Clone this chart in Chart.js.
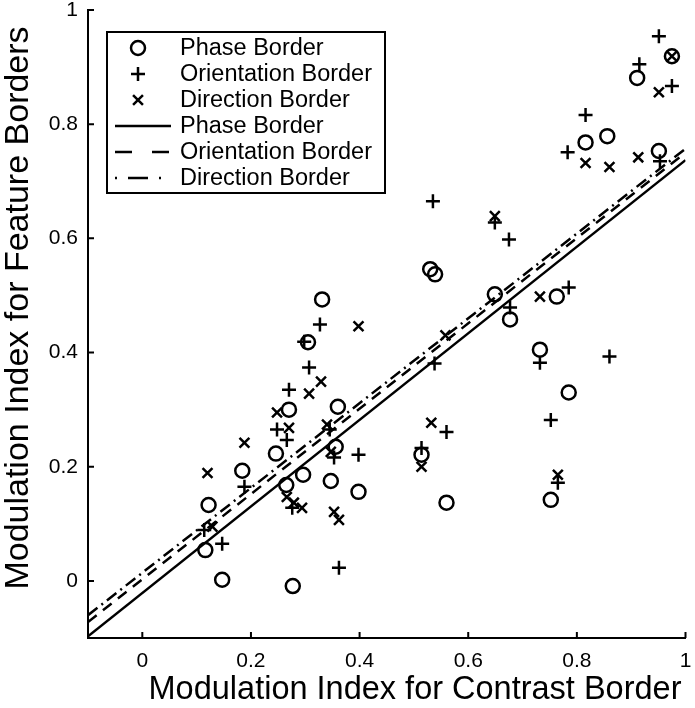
<!DOCTYPE html>
<html>
<head>
<meta charset="utf-8">
<script src="https://cdn.jsdelivr.net/npm/chart.js@4.4.0/dist/chart.umd.min.js"></script>
<style>
  body { margin: 0; background: #fff; }
</style>
</head>
<body>
<canvas id="modChart" width="695" height="708"></canvas>
<script>
// values
const tickVals = [0, 0.2, 0.4, 0.6, 0.8, 1];

const phaseX = [0.116, 0.122, 0.147, 0.184, 0.246, 0.270, 0.265, 0.277, 0.305, 0.331, 0.296, 0.360, 0.356, 0.347, 0.398,
                0.530, 0.539, 0.514, 0.560, 0.649, 0.677, 0.763, 0.732, 0.785, 0.752, 0.816, 0.856, 0.911, 0.975, 0.951];
const phaseY = [0.054, 0.133, 0.002, 0.193, 0.223, 0.300, 0.168, -0.009, 0.418, 0.493, 0.186, 0.305, 0.235, 0.175, 0.156,
                0.546, 0.537, 0.221, 0.137, 0.502, 0.458, 0.498, 0.405, 0.330, 0.142, 0.768, 0.779, 0.881, 0.919, 0.753];

const orientX = [0.114, 0.147, 0.188, 0.248, 0.266, 0.270, 0.307, 0.298, 0.327, 0.276, 0.345, 0.353, 0.398, 0.362, 0.538, 0.560,
                 0.514, 0.535, 0.649, 0.675, 0.677, 0.785, 0.732, 0.860, 0.752, 0.765, 0.783, 0.816, 0.915, 0.951, 0.975, 0.953];
const orientY = [0.089, 0.065, 0.165, 0.265, 0.247, 0.335, 0.374, 0.419, 0.449, 0.128, 0.265, 0.216, 0.221, 0.023, 0.381, 0.261,
                 0.233, 0.665, 0.628, 0.598, 0.479, 0.514, 0.382, 0.393, 0.282, 0.172, 0.751, 0.816, 0.905, 0.954, 0.867, 0.735];

const dirX = [0.120, 0.129, 0.188, 0.248, 0.270, 0.307, 0.329, 0.266, 0.279, 0.294, 0.398, 0.353, 0.362, 0.347, 0.558, 0.532,
              0.514, 0.649, 0.732, 0.765, 0.816, 0.860, 0.913, 0.951, 0.975, 0.340];
const dirY = [0.189, 0.095, 0.242, 0.295, 0.268, 0.328, 0.349, 0.147, 0.137, 0.128, 0.446, 0.121, 0.107, 0.226, 0.430, 0.277,
              0.200, 0.639, 0.498, 0.186, 0.732, 0.725, 0.742, 0.856, 0.919, 0.274];

// regression lines, end points at x = -0.1 and x = 1
const fitX = [-0.1, 1];
const phaseFit = [-0.097, 0.737];
const orientFit = [-0.072, 0.750];
const dirFit = [-0.060, 0.757];

const xTitle = 'Modulation Index for Contrast Border';
const yTitle = 'Modulation Index for Feature Borders';

function pts(xs, ys) {
  return xs.map((x, i) => ({ x: x, y: ys[i] }));
}

const FONT = "'Liberation Sans', Arial, sans-serif";
Chart.defaults.font.family = FONT;
Chart.defaults.color = '#000';

// MATLAB-style ticks pointing into the axes, plus the two axis titles
const axisDecor = {
  id: 'axisDecor',
  afterDraw(chart) {
    const ctx = chart.ctx;
    const xs = chart.scales.x, ys = chart.scales.y;
    ctx.save();
    ctx.strokeStyle = '#000';
    ctx.lineWidth = 2;
    ctx.beginPath();
    xs.ticks.forEach(t => {
      const px = xs.getPixelForValue(t.value);
      ctx.moveTo(px, xs.top);
      ctx.lineTo(px, xs.top - 6);
    });
    ys.ticks.forEach(t => {
      const py = ys.getPixelForValue(t.value);
      ctx.moveTo(ys.right, py);
      ctx.lineTo(ys.right + 6, py);
    });
    ctx.stroke();

    ctx.fillStyle = '#000';
    ctx.textAlign = 'center';
    ctx.textBaseline = 'middle';
    ctx.font = '32.5px ' + FONT;
    ctx.fillText(xTitle, 415, 690);
    ctx.translate(19, 308);
    ctx.rotate(-Math.PI / 2);
    ctx.font = '34px ' + FONT;
    ctx.fillText(yTitle, 0, 0);
    ctx.restore();
  }
};

// boxed legend inside the plot
const boxLegend = {
  id: 'boxLegend',
  afterDraw(chart) {
    const ctx = chart.ctx;
    const x0 = 107, y0 = 32, w = 278, h = 161;
    ctx.save();
    ctx.fillStyle = '#fff';
    ctx.fillRect(x0, y0, w, h);
    ctx.strokeStyle = '#000';
    ctx.lineWidth = 2;
    ctx.strokeRect(x0, y0, w, h);
    ctx.font = '23.5px ' + FONT;
    ctx.textBaseline = 'middle';
    chart.data.datasets.forEach((ds, i) => {
      const cy = y0 + 16 + i * 26;
      ctx.strokeStyle = '#000';
      ctx.lineWidth = 2.5;
      if (ds.showLine) {
        ctx.setLineDash(ds.legendDash || []);
        ctx.beginPath();
        ctx.moveTo(115, cy);
        ctx.lineTo(171, cy);
        ctx.stroke();
        ctx.setLineDash([]);
      } else {
        Chart.helpers.drawPoint(ctx, {
          pointStyle: ds.pointStyle, radius: ds.pointRadius, borderWidth: 2.5, rotation: 0
        }, 138, cy);
      }
      ctx.fillStyle = '#000';
      ctx.fillText(ds.label, 180, cy + 1);
    });
    ctx.restore();
  }
};

const markerBase = {
  showLine: false,
  borderColor: '#000',
  backgroundColor: 'rgba(0,0,0,0)',
  pointBorderWidth: 2.5
};
const lineBase = {
  showLine: true,
  borderColor: '#000',
  borderWidth: 2.5,
  pointRadius: 0,
  pointHoverRadius: 0,
  fill: false
};

new Chart(document.getElementById('modChart'), {
  type: 'scatter',
  data: {
    datasets: [
      Object.assign({ label: 'Phase Border', data: pts(phaseX, phaseY), pointStyle: 'circle', pointRadius: 7 }, markerBase),
      Object.assign({ label: 'Orientation Border', data: pts(orientX, orientY), pointStyle: 'cross', pointRadius: 7 }, markerBase),
      Object.assign({ label: 'Direction Border', data: pts(dirX, dirY), pointStyle: 'crossRot', pointRadius: 7 }, markerBase),
      Object.assign({ label: 'Phase Border', data: pts(fitX, phaseFit), borderDash: [] }, lineBase),
      Object.assign({ label: 'Orientation Border', data: pts(fitX, orientFit), borderDash: [11, 8], legendDash: [17, 20] }, lineBase),
      Object.assign({ label: 'Direction Border', data: pts(fitX, dirFit), borderDash: [12, 5, 2, 5], legendDash: [2, 11, 20, 11] }, lineBase)
    ]
  },
  options: {
    responsive: false,
    animation: false,
    events: [],
    layout: { padding: { top: 10, right: 8, left: 0, bottom: 0 } },
    plugins: {
      legend: { display: false },
      tooltip: { enabled: false }
    },
    scales: {
      x: {
        type: 'linear',
        min: -0.1,
        max: 1,
        afterBuildTicks: s => { s.ticks = tickVals.map(v => ({ value: v })); },
        afterFit: s => { s.height = 70; s.paddingLeft = 0; s.paddingRight = 0; },
        grid: { display: false, drawTicks: false },
        border: { display: true, color: '#000', width: 2 },
        ticks: {
          font: { size: 21 },
          color: '#000',
          padding: 11,
          maxRotation: 0,
          callback: v => String(Number(v.toFixed(1)))
        },
        title: { display: false }
      },
      y: {
        type: 'linear',
        min: -0.1,
        max: 1,
        afterBuildTicks: s => { s.ticks = tickVals.map(v => ({ value: v })); },
        afterFit: s => { s.width = 88; s.paddingTop = 0; s.paddingBottom = 0; },
        grid: { display: false, drawTicks: false },
        border: { display: true, color: '#000', width: 2 },
        ticks: {
          font: { size: 21 },
          color: '#000',
          padding: 10,
          callback: v => String(Number(v.toFixed(1)))
        },
        title: { display: false }
      }
    }
  },
  plugins: [axisDecor, boxLegend]
});
</script>
</body>
</html>
